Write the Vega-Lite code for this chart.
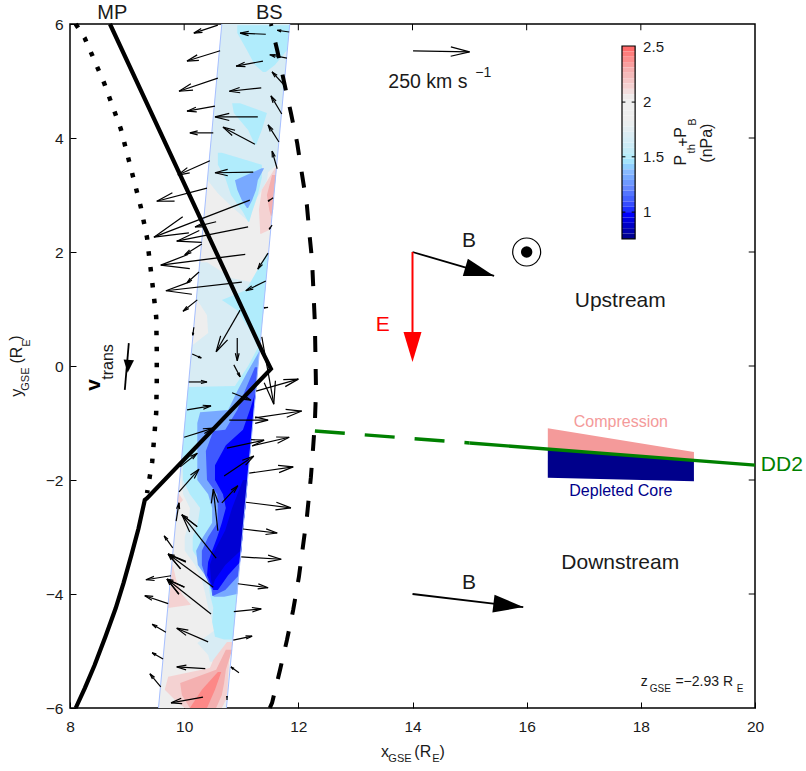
{
"$schema":"https://vega.github.io/schema/vega-lite/v6.json",
"width":685,"height":684,
"autosize":{"type":"none"},
"padding":{"left":70,"top":24,"right":51,"bottom":63},
"background":"white",
"config":{"view":{"stroke":"black","strokeWidth":1.5},"font":"Liberation Sans","axis":{"grid":false,"title":null,"domain":false,"ticks":true,"tickSize":-6,"tickColor":"black","tickWidth":1,"labelFont":"Liberation Sans","labelFontSize":15.5,"labelColor":"#1a1a1a","labelOverlap":false,"labelFlush":false,"zindex":1}},
"datasets":{
"patches":[
{"p":"a","v":1.95,"y":6,"x":10.66,"x2":11.85},{"p":"a","v":1.95,"y":-6,"x":9.55,"x2":10.74},
{"p":"b1","v":1.7,"y":6,"x":10.66,"x2":11.85},{"p":"b1","v":1.7,"y":3.53,"x":10.43,"x2":11.62},{"p":"b1","v":1.7,"y":3.4,"x":10.42,"x2":11.47},{"p":"b1","v":1.7,"y":3.26,"x":10.41,"x2":11.45},{"p":"b1","v":1.7,"y":3.03,"x":10.59,"x2":11.33},{"p":"b1","v":1.7,"y":2.79,"x":10.84,"x2":11.15},{"p":"b1","v":1.7,"y":2.56,"x":11.1,"x2":11.12},
{"p":"b2","v":1.7,"y":1.82,"x":10.27,"x2":10.4},{"p":"b2","v":1.7,"y":1.54,"x":10.25,"x2":10.84},{"p":"b2","v":1.7,"y":1.42,"x":10.24,"x2":11.43},{"p":"b2","v":1.7,"y":-0.39,"x":10.07,"x2":11.26},
{"p":"b3","v":1.95,"y":1.16,"x":10.21,"x2":10.23},{"p":"b3","v":1.95,"y":0.89,"x":10.19,"x2":10.4},{"p":"b3","v":1.95,"y":0.58,"x":10.16,"x2":10.42},{"p":"b3","v":1.95,"y":0.37,"x":10.14,"x2":10.15},
{"p":"b4","v":1.7,"y":-0.39,"x":10.07,"x2":11.26},{"p":"b4","v":1.7,"y":-1.82,"x":9.94,"x2":11.13},{"p":"b4","v":1.7,"y":-2.25,"x":9.98,"x2":11.09},{"p":"b4","v":1.7,"y":-2.49,"x":10.1,"x2":11.07},{"p":"b4","v":1.7,"y":-2.75,"x":10.08,"x2":11.04},{"p":"b4","v":1.7,"y":-3,"x":10.01,"x2":11.02},{"p":"b4","v":1.7,"y":-3.24,"x":10.01,"x2":11},{"p":"b4","v":1.7,"y":-3.49,"x":10.19,"x2":10.97},{"p":"b4","v":1.7,"y":-3.75,"x":10.31,"x2":10.95},{"p":"b4","v":1.7,"y":-4,"x":10.37,"x2":10.93},{"p":"b4","v":1.7,"y":-4.24,"x":10.42,"x2":10.9},{"p":"b4","v":1.7,"y":-4.63,"x":10.54,"x2":10.87},{"p":"b4","v":1.7,"y":-4.86,"x":10.23,"x2":10.85},{"p":"b4","v":1.7,"y":-5.07,"x":10.42,"x2":10.8},{"p":"b4","v":1.7,"y":-5.19,"x":10.45,"x2":10.49},
{"p":"c1","v":1.5,"y":5.98,"x":10.93,"x2":11.85},{"p":"c1","v":1.5,"y":5.84,"x":10.93,"x2":11.83},{"p":"c1","v":1.5,"y":5.54,"x":11.1,"x2":11.8},{"p":"c1","v":1.5,"y":5.28,"x":11.24,"x2":11.59},{"p":"c1","v":1.5,"y":5.16,"x":11.38,"x2":11.43},
{"p":"c2","v":1.5,"y":4.61,"x":10.84,"x2":10.98},{"p":"c2","v":1.5,"y":4.44,"x":10.87,"x2":11.45},{"p":"c2","v":1.5,"y":4.14,"x":11.12,"x2":11.36},{"p":"c2","v":1.5,"y":3.88,"x":11.24,"x2":11.26},
{"p":"c3","v":1.5,"y":3.74,"x":10.59,"x2":10.66},{"p":"c3","v":1.5,"y":3.53,"x":10.59,"x2":11.36},{"p":"c3","v":1.5,"y":3.3,"x":10.72,"x2":11.36},{"p":"c3","v":1.5,"y":3,"x":10.82,"x2":11.29},{"p":"c3","v":1.5,"y":2.7,"x":11.03,"x2":11.19},{"p":"c3","v":1.5,"y":2.53,"x":11.12,"x2":11.14},
{"p":"c4","v":1.33,"y":3.47,"x":11.36,"x2":11.4},{"p":"c4","v":1.33,"y":3.26,"x":10.89,"x2":11.29},{"p":"c4","v":1.33,"y":3.09,"x":10.93,"x2":11.26},{"p":"c4","v":1.33,"y":2.91,"x":11.01,"x2":11.19},{"p":"c4","v":1.33,"y":2.77,"x":11.1,"x2":11.12},
{"p":"c5","v":1.5,"y":1.98,"x":11.45,"x2":11.49},{"p":"c5","v":1.5,"y":1.68,"x":11.28,"x2":11.45},{"p":"c5","v":1.5,"y":1.33,"x":11.08,"x2":11.42},{"p":"c5","v":1.5,"y":1.16,"x":10.66,"x2":11.4},{"p":"c5","v":1.5,"y":0.98,"x":10.93,"x2":11.39},{"p":"c5","v":1.5,"y":0.63,"x":11.15,"x2":11.35},{"p":"c5","v":1.5,"y":0.28,"x":11.31,"x2":11.32},
{"p":"c6","v":1.5,"y":0.32,"x":11.29,"x2":11.32},{"p":"c6","v":1.5,"y":0,"x":11.12,"x2":11.295},{"p":"c6","v":1.5,"y":-0.35,"x":10.89,"x2":11.26},{"p":"c6","v":1.5,"y":-0.37,"x":10.07,"x2":11.26},{"p":"c6","v":1.5,"y":-1,"x":10.01,"x2":11.2},{"p":"c6","v":1.5,"y":-1.49,"x":9.97,"x2":11.16},{"p":"c6","v":1.5,"y":-2,"x":9.98,"x2":11.11},{"p":"c6","v":1.5,"y":-2.25,"x":10.1,"x2":11.09},{"p":"c6","v":1.5,"y":-2.49,"x":10.28,"x2":11.07},{"p":"c6","v":1.5,"y":-2.75,"x":10.24,"x2":11.04},{"p":"c6","v":1.5,"y":-3,"x":10.15,"x2":11.02},{"p":"c6","v":1.5,"y":-3.24,"x":10.15,"x2":11},{"p":"c6","v":1.5,"y":-3.49,"x":10.31,"x2":10.97},{"p":"c6","v":1.5,"y":-3.75,"x":10.42,"x2":10.95},{"p":"c6","v":1.5,"y":-4,"x":10.45,"x2":10.93},{"p":"c6","v":1.5,"y":-4.24,"x":10.51,"x2":10.9},{"p":"c6","v":1.5,"y":-4.49,"x":10.49,"x2":10.88},{"p":"c6","v":1.5,"y":-4.75,"x":10.54,"x2":10.86},{"p":"c6","v":1.5,"y":-4.8,"x":10.7,"x2":10.84},
{"p":"d","v":1.33,"y":0.25,"x":11.31,"x2":11.32},{"p":"d","v":1.33,"y":-0.12,"x":11.1,"x2":11.28},{"p":"d","v":1.33,"y":-0.42,"x":10.94,"x2":11.26},{"p":"d","v":1.33,"y":-0.77,"x":10.77,"x2":11.22},{"p":"d","v":1.33,"y":-0.81,"x":10.28,"x2":11.22},{"p":"d","v":1.33,"y":-1,"x":10.23,"x2":11.2},{"p":"d","v":1.33,"y":-1.49,"x":10.23,"x2":11.16},{"p":"d","v":1.33,"y":-2,"x":10.23,"x2":11.11},{"p":"d","v":1.33,"y":-2.25,"x":10.42,"x2":11.09},{"p":"d","v":1.33,"y":-2.49,"x":10.49,"x2":11.07},{"p":"d","v":1.33,"y":-2.75,"x":10.49,"x2":11.04},{"p":"d","v":1.33,"y":-3,"x":10.33,"x2":11.02},{"p":"d","v":1.33,"y":-3.24,"x":10.21,"x2":11},{"p":"d","v":1.33,"y":-3.49,"x":10.24,"x2":10.97},{"p":"d","v":1.33,"y":-3.75,"x":10.42,"x2":10.95},{"p":"d","v":1.33,"y":-4,"x":10.49,"x2":10.93},{"p":"d","v":1.33,"y":-4.05,"x":10.52,"x2":10.7},
{"p":"e","v":1.12,"y":-0.02,"x":11.24,"x2":11.29},{"p":"e","v":1.12,"y":-0.42,"x":11.07,"x2":11.26},{"p":"e","v":1.12,"y":-0.77,"x":10.93,"x2":11.22},{"p":"e","v":1.12,"y":-1.12,"x":10.72,"x2":11.19},{"p":"e","v":1.12,"y":-1.14,"x":10.51,"x2":11.19},{"p":"e","v":1.12,"y":-1.49,"x":10.38,"x2":11.16},{"p":"e","v":1.12,"y":-2,"x":10.4,"x2":11.11},{"p":"e","v":1.12,"y":-2.25,"x":10.58,"x2":11.09},{"p":"e","v":1.12,"y":-2.49,"x":10.59,"x2":11.07},{"p":"e","v":1.12,"y":-2.75,"x":10.58,"x2":11.04},{"p":"e","v":1.12,"y":-3,"x":10.42,"x2":11.02},{"p":"e","v":1.12,"y":-3.24,"x":10.31,"x2":11},{"p":"e","v":1.12,"y":-3.49,"x":10.31,"x2":10.97},{"p":"e","v":1.12,"y":-3.68,"x":10.37,"x2":10.95},{"p":"e","v":1.12,"y":-3.93,"x":10.49,"x2":10.72},{"p":"e","v":1.12,"y":-4.03,"x":10.49,"x2":10.51},
{"p":"f","v":1.0,"y":-0.46,"x":11.25,"x2":11.26},{"p":"f","v":1.0,"y":-0.77,"x":11.15,"x2":11.22},{"p":"f","v":1.0,"y":-1.12,"x":11.03,"x2":11.19},{"p":"f","v":1.0,"y":-1.39,"x":10.73,"x2":11.17},{"p":"f","v":1.0,"y":-1.74,"x":10.54,"x2":11.13},{"p":"f","v":1.0,"y":-2,"x":10.54,"x2":11.11},{"p":"f","v":1.0,"y":-2.25,"x":10.68,"x2":11.09},{"p":"f","v":1.0,"y":-2.49,"x":10.73,"x2":11.07},{"p":"f","v":1.0,"y":-2.75,"x":10.66,"x2":11.04},{"p":"f","v":1.0,"y":-3,"x":10.58,"x2":11.02},{"p":"f","v":1.0,"y":-3.24,"x":10.49,"x2":11},{"p":"f","v":1.0,"y":-3.44,"x":10.42,"x2":10.98},{"p":"f","v":1.0,"y":-3.67,"x":10.4,"x2":10.77},{"p":"f","v":1.0,"y":-3.93,"x":10.51,"x2":10.59},
{"p":"g","v":0.92,"y":-2,"x":11.03,"x2":11.11},{"p":"g","v":0.92,"y":-2.49,"x":10.84,"x2":11.07},{"p":"g","v":0.92,"y":-2.88,"x":10.72,"x2":11.03},{"p":"g","v":0.92,"y":-3.23,"x":10.54,"x2":11},{"p":"g","v":0.92,"y":-3.49,"x":10.45,"x2":10.72},{"p":"g","v":0.92,"y":-3.75,"x":10.47,"x2":10.54},{"p":"g","v":0.92,"y":-3.84,"x":10.49,"x2":10.51},
{"p":"h1","v":2.15,"y":-3.49,"x":9.79,"x2":9.8},{"p":"h1","v":2.15,"y":-3.75,"x":9.77,"x2":9.86},{"p":"h1","v":2.15,"y":-4,"x":9.75,"x2":9.96},{"p":"h1","v":2.15,"y":-4.19,"x":9.72,"x2":10.12},{"p":"h1","v":2.15,"y":-4.24,"x":9.71,"x2":9.75},
{"p":"h2","v":2.15,"y":-2.23,"x":9.89,"x2":9.9},{"p":"h2","v":2.15,"y":-2.35,"x":9.88,"x2":9.98},{"p":"h2","v":2.15,"y":-2.44,"x":9.88,"x2":9.9},
{"p":"h3","v":2.15,"y":-4.84,"x":10.75,"x2":10.85},{"p":"h3","v":2.15,"y":-5.16,"x":10.51,"x2":10.79},{"p":"h3","v":2.15,"y":-5.3,"x":10.45,"x2":10.78},{"p":"h3","v":2.15,"y":-5.45,"x":9.72,"x2":10.77},{"p":"h3","v":2.15,"y":-5.68,"x":9.66,"x2":10.76},{"p":"h3","v":2.15,"y":-5.86,"x":9.84,"x2":10.73},{"p":"h3","v":2.15,"y":-6,"x":10.01,"x2":10.66},
{"p":"i1","v":2.3,"y":-4.98,"x":10.73,"x2":10.84},{"p":"i1","v":2.3,"y":-5.33,"x":10.56,"x2":10.73},{"p":"i1","v":2.3,"y":-5.56,"x":9.93,"x2":10.7},{"p":"i1","v":2.3,"y":-5.77,"x":9.96,"x2":10.66},{"p":"i1","v":2.3,"y":-6,"x":10.1,"x2":10.56},
{"p":"j1","v":2.42,"y":-5.37,"x":10.59,"x2":10.65},{"p":"j1","v":2.42,"y":-5.68,"x":10.31,"x2":10.54},{"p":"j1","v":2.42,"y":-6,"x":10.1,"x2":10.4},
{"p":"k1","v":2.15,"y":3.47,"x":11.59,"x2":11.62},{"p":"k1","v":2.15,"y":3.09,"x":11.36,"x2":11.58},{"p":"k1","v":2.15,"y":2.74,"x":11.31,"x2":11.55},{"p":"k1","v":2.15,"y":2.39,"x":11.33,"x2":11.5},{"p":"k1","v":2.15,"y":2.32,"x":11.33,"x2":11.35},
{"p":"k2","v":2.3,"y":3.35,"x":11.54,"x2":11.61},{"p":"k2","v":2.3,"y":3,"x":11.45,"x2":11.57},{"p":"k2","v":2.3,"y":2.74,"x":11.49,"x2":11.56},{"p":"k2","v":2.3,"y":2.63,"x":11.52,"x2":11.53}
],
"bar":[
{"v":2.5,"x":17.67,"x2":17.9,"y":5.614,"y2":5.52},{"v":2.451,"x":17.67,"x2":17.9,"y":5.52,"y2":5.426},{"v":2.403,"x":17.67,"x2":17.9,"y":5.426,"y2":5.332},{"v":2.354,"x":17.67,"x2":17.9,"y":5.332,"y2":5.238},{"v":2.306,"x":17.67,"x2":17.9,"y":5.238,"y2":5.144},{"v":2.257,"x":17.67,"x2":17.9,"y":5.144,"y2":5.05},{"v":2.208,"x":17.67,"x2":17.9,"y":5.05,"y2":4.956},{"v":2.16,"x":17.67,"x2":17.9,"y":4.956,"y2":4.862},{"v":2.111,"x":17.67,"x2":17.9,"y":4.862,"y2":4.768},{"v":2.063,"x":17.67,"x2":17.9,"y":4.768,"y2":4.674},{"v":2.014,"x":17.67,"x2":17.9,"y":4.674,"y2":4.58},{"v":1.965,"x":17.67,"x2":17.9,"y":4.58,"y2":4.486},{"v":1.917,"x":17.67,"x2":17.9,"y":4.486,"y2":4.392},{"v":1.868,"x":17.67,"x2":17.9,"y":4.392,"y2":4.298},{"v":1.82,"x":17.67,"x2":17.9,"y":4.298,"y2":4.204},{"v":1.771,"x":17.67,"x2":17.9,"y":4.204,"y2":4.11},{"v":1.722,"x":17.67,"x2":17.9,"y":4.11,"y2":4.016},{"v":1.674,"x":17.67,"x2":17.9,"y":4.016,"y2":3.922},{"v":1.625,"x":17.67,"x2":17.9,"y":3.922,"y2":3.828},{"v":1.577,"x":17.67,"x2":17.9,"y":3.828,"y2":3.734},{"v":1.528,"x":17.67,"x2":17.9,"y":3.734,"y2":3.64},{"v":1.479,"x":17.67,"x2":17.9,"y":3.64,"y2":3.546},{"v":1.431,"x":17.67,"x2":17.9,"y":3.546,"y2":3.452},{"v":1.382,"x":17.67,"x2":17.9,"y":3.452,"y2":3.358},{"v":1.334,"x":17.67,"x2":17.9,"y":3.358,"y2":3.264},{"v":1.285,"x":17.67,"x2":17.9,"y":3.264,"y2":3.17},{"v":1.236,"x":17.67,"x2":17.9,"y":3.17,"y2":3.076},{"v":1.188,"x":17.67,"x2":17.9,"y":3.076,"y2":2.982},{"v":1.139,"x":17.67,"x2":17.9,"y":2.982,"y2":2.888},{"v":1.091,"x":17.67,"x2":17.9,"y":2.888,"y2":2.794},{"v":1.042,"x":17.67,"x2":17.9,"y":2.794,"y2":2.7},{"v":0.993,"x":17.67,"x2":17.9,"y":2.7,"y2":2.606},{"v":0.945,"x":17.67,"x2":17.9,"y":2.606,"y2":2.512},{"v":0.896,"x":17.67,"x2":17.9,"y":2.512,"y2":2.418},{"v":0.848,"x":17.67,"x2":17.9,"y":2.418,"y2":2.324},{"v":0.799,"x":17.67,"x2":17.9,"y":2.324,"y2":2.23}
],
"arrows":[
{"x":10.59,"y":5.98,"x2":10.17,"y2":5.84},{"x":11.43,"y":5.82,"x2":10.98,"y2":5.84},{"x":11.84,"y":5.86,"x2":11.63,"y2":5.89},{"x":10.63,"y":5.53,"x2":10.05,"y2":5.35},{"x":11.38,"y":5.35,"x2":10.91,"y2":5.26},{"x":11.8,"y":5.4,"x2":11.5,"y2":5.46},{"x":10.59,"y":5.05,"x2":9.91,"y2":4.82},{"x":11.35,"y":4.88,"x2":10.79,"y2":4.82},{"x":11.75,"y":4.93,"x2":11.54,"y2":5.16},{"x":10.54,"y":4.56,"x2":10.05,"y2":4.47},{"x":11.29,"y":4.37,"x2":10.54,"y2":4.37},{"x":11.71,"y":4.42,"x2":11.52,"y2":4.74},{"x":10.51,"y":4.09,"x2":10.1,"y2":4.09},{"x":11.24,"y":3.89,"x2":10.68,"y2":4.19},{"x":11.66,"y":3.93,"x2":11.47,"y2":4.23},{"x":10.45,"y":3.6,"x2":9.89,"y2":3.35},{"x":11.21,"y":3.4,"x2":10.54,"y2":3.39},{"x":11.63,"y":3.46,"x2":11.54,"y2":3.77},{"x":10.4,"y":3.12,"x2":9.52,"y2":2.89},{"x":11.15,"y":2.91,"x2":9.47,"y2":2.26},{"x":10.56,"y":2.53,"x2":10.19,"y2":2.44},{"x":11.12,"y":2.44,"x2":9.87,"y2":2.19},{"x":11.56,"y":2.95,"x2":11.47,"y2":2.89},{"x":11.54,"y":2.47,"x2":11.49,"y2":2.4},{"x":10.31,"y":2.14,"x2":10.01,"y2":1.95},{"x":10.26,"y":1.65,"x2":10.05,"y2":1.46},{"x":11.07,"y":1.96,"x2":9.59,"y2":1.77},{"x":11.47,"y":1.98,"x2":11.29,"y2":1.7},{"x":11.01,"y":1.47,"x2":9.68,"y2":1.32},{"x":11.43,"y":1.49,"x2":11.08,"y2":1.32},{"x":10.23,"y":1.16,"x2":9.98,"y2":0.96},{"x":11.47,"y":1.03,"x2":11.4,"y2":1.02},{"x":10.98,"y":0.98,"x2":10.56,"y2":0.25},{"x":10.17,"y":0.68,"x2":10.15,"y2":0.54},{"x":10.93,"y":0.49,"x2":10.93,"y2":0.09},{"x":10.14,"y":0.21,"x2":10.3,"y2":0.14},{"x":11.36,"y":0.51,"x2":11.57,"y2":-0.67},{"x":10.87,"y":0.02,"x2":10.98,"y2":-0.19},{"x":10.08,"y":-0.28,"x2":10.4,"y2":-0.28},{"x":10.84,"y":-0.47,"x2":11.17,"y2":-0.6},{"x":11.26,"y":-0.44,"x2":12.0,"y2":-0.23},{"x":10.05,"y":-0.77,"x2":10.47,"y2":-0.7},{"x":10.79,"y":-0.95,"x2":11.47,"y2":-0.95},{"x":11.24,"y":-0.91,"x2":12.06,"y2":-0.79},{"x":10.0,"y":-1.25,"x2":10.51,"y2":-1.09},{"x":10.75,"y":-1.44,"x2":11.4,"y2":-1.3},{"x":11.19,"y":-1.4,"x2":11.84,"y2":-1.25},{"x":9.93,"y":-1.77,"x2":10.23,"y2":-1.53},{"x":10.7,"y":-1.93,"x2":11.22,"y2":-1.58},{"x":11.14,"y":-1.88,"x2":11.91,"y2":-1.77},{"x":9.91,"y":-2.21,"x2":10.26,"y2":-1.81},{"x":9.86,"y":-2.72,"x2":9.91,"y2":-2.4},{"x":10.59,"y":-2.89,"x2":10.51,"y2":-2.16},{"x":10.66,"y":-2.4,"x2":10.94,"y2":-2.1},{"x":10.23,"y":-2.82,"x2":9.96,"y2":-2.61},{"x":10.56,"y":-3.37,"x2":9.96,"y2":-2.61},{"x":11.08,"y":-2.39,"x2":11.87,"y2":-2.49},{"x":11.03,"y":-2.86,"x2":11.63,"y2":-2.93},{"x":9.8,"y":-3.19,"x2":9.65,"y2":-2.98},{"x":11.0,"y":-3.35,"x2":11.7,"y2":-3.39},{"x":10.03,"y":-3.44,"x2":9.72,"y2":-3.3},{"x":10.51,"y":-3.88,"x2":9.72,"y2":-3.3},{"x":9.94,"y":-3.56,"x2":9.72,"y2":-3.3},{"x":9.77,"y":-3.68,"x2":9.33,"y2":-3.75},{"x":10.0,"y":-3.88,"x2":9.7,"y2":-3.74},{"x":10.47,"y":-4.35,"x2":9.7,"y2":-3.74},{"x":9.91,"y":-4.0,"x2":9.7,"y2":-3.74},{"x":10.94,"y":-3.82,"x2":11.47,"y2":-3.89},{"x":9.72,"y":-4.17,"x2":9.31,"y2":-4.03},{"x":10.87,"y":-4.31,"x2":11.35,"y2":-4.26},{"x":9.68,"y":-4.67,"x2":9.44,"y2":-4.53},{"x":10.42,"y":-4.84,"x2":9.87,"y2":-4.6},{"x":10.86,"y":-4.81,"x2":11.19,"y2":-4.74},{"x":9.63,"y":-5.14,"x2":9.44,"y2":-5.03},{"x":10.37,"y":-5.31,"x2":9.87,"y2":-5.28},{"x":10.96,"y":-5.38,"x2":10.82,"y2":-5.28},{"x":9.59,"y":-5.63,"x2":9.4,"y2":-5.4},{"x":10.33,"y":-5.81,"x2":9.77,"y2":-5.91},{"x":10.75,"y":-5.86,"x2":10.75,"y2":-5.79},
{"x":14.01,"y":5.53,"x2":15.0,"y2":5.51}
],
"mp":[{"i":0,"x":8.7,"y":6},{"i":1,"x":11.38,"y":0.23},{"i":2,"x":11.52,"y":-0.05},{"i":3,"x":9.35,"y":-2.32},{"i":4,"x":9.31,"y":-2.35},{"i":5,"x":9.2,"y":-2.85},{"i":6,"x":9.08,"y":-3.3},{"i":7,"x":8.94,"y":-3.8},{"i":8,"x":8.8,"y":-4.25},{"i":9,"x":8.62,"y":-4.75},{"i":10,"x":8.43,"y":-5.25},{"i":11,"x":8.26,"y":-5.65},{"i":12,"x":8.1,"y":-6}],
"dots":[{"i":0,"x":8.1,"y":6},{"i":1,"x":8.26,"y":5.75},{"i":2,"x":8.6,"y":4.96},{"i":3,"x":8.89,"y":4.16},{"i":4,"x":9.24,"y":2.79},{"i":5,"x":9.35,"y":2.25},{"i":6,"x":9.38,"y":1.98},{"i":7,"x":9.45,"y":1.39},{"i":8,"x":9.51,"y":0.86},{"i":9,"x":9.52,"y":0.28},{"i":10,"x":9.52,"y":-0.28},{"i":11,"x":9.51,"y":-0.82},{"i":12,"x":9.44,"y":-1.68},{"i":13,"x":9.35,"y":-2.23}],
"bs":[{"i":0,"x":11.52,"y":6},{"i":1,"x":11.63,"y":5.54},{"i":2,"x":11.77,"y":4.89},{"i":3,"x":11.87,"y":4.44},{"i":4,"x":11.98,"y":3.91},{"i":5,"x":12.06,"y":3.39},{"i":6,"x":12.15,"y":2.82},{"i":7,"x":12.2,"y":2.26},{"i":8,"x":12.24,"y":1.86},{"i":9,"x":12.29,"y":0.75},{"i":10,"x":12.31,"y":-0.42},{"i":11,"x":12.29,"y":-0.98},{"i":12,"x":12.26,"y":-1.42},{"i":13,"x":12.22,"y":-1.95},{"i":14,"x":12.15,"y":-2.65},{"i":15,"x":12.08,"y":-3.17},{"i":16,"x":12.01,"y":-3.7},{"i":17,"x":11.91,"y":-4.28},{"i":18,"x":11.8,"y":-4.81},{"i":19,"x":11.68,"y":-5.33},{"i":20,"x":11.54,"y":-5.91},{"i":21,"x":11.5,"y":-6}],
"ticks":[{"x":10,"x2":10,"y":6,"y2":5.89},{"x":12,"x2":12,"y":6,"y2":5.89},{"x":14,"x2":14,"y":6,"y2":5.89},{"x":16,"x2":16,"y":6,"y2":5.89},{"x":18,"x2":18,"y":6,"y2":5.89},{"x":20,"x2":19.89,"y":4,"y2":4},{"x":20,"x2":19.89,"y":2,"y2":2},{"x":20,"x2":19.89,"y":0,"y2":0},{"x":20,"x2":19.89,"y":-2,"y2":-2},{"x":20,"x2":19.89,"y":-4,"y2":-4},{"x":17.67,"x2":17.73,"y":4.63,"y2":4.63},{"x":17.67,"x2":17.73,"y":3.67,"y2":3.67},{"x":17.67,"x2":17.73,"y":2.7,"y2":2.7},{"x":17.9,"x2":17.84,"y":4.63,"y2":4.63},{"x":17.9,"x2":17.84,"y":3.67,"y2":3.67},{"x":17.9,"x2":17.84,"y":2.7,"y2":2.7}]
},
"encoding":{
"x":{"field":"x","type":"quantitative","scale":{"domain":[8,20],"nice":false,"zero":false},"axis":{"values":[8,10,12,14,16,18,20],"labelPadding":17,"orient":"bottom"}},
"y":{"field":"y","type":"quantitative","scale":{"domain":[-6,6],"nice":false,"zero":false},"axis":{"values":[-6,-4,-2,0,2,4,6],"labelPadding":13,"orient":"left"}}
},
"layer":[
{"data":{"name":"patches"},"mark":{"type":"area","orient":"horizontal","opacity":1},"encoding":{"x2":{"field":"x2"},"detail":{"field":"p"},"color":{"field":"v","type":"quantitative","legend":null,"scale":{"domain":[0.75,1,1.1,1.25,1.4,1.5,1.6,1.7,1.85,2.05,2.15,2.3,2.5],"range":["#00007a","#0000ff","#3a50ff","#6a8cff","#8fc0ff","#b0ecfc","#c8ebf6","#d8ecf4","#eeeeee","#eeeeee","#f4d2d2","#f4b0b0","#ff6a6a"]}}}},
{"data":{"values":[{"x":10.66,"y":6,"x2":9.55,"y2":-6},{"x":11.85,"y":6,"x2":10.74,"y2":-6}]},"mark":{"type":"rule","stroke":"#a6bfff","strokeWidth":1},"encoding":{"x2":{"field":"x2"},"y2":{"field":"y2"}}},
{"data":{"values":[{"x":16.37,"y":-1.09,"y2":-1.46},{"x":18.93,"y":-1.51,"y2":-1.66}]},"mark":{"type":"area","color":"#f49a9a","opacity":1},"encoding":{"y2":{"field":"y2"}}},
{"data":{"values":[{"x":16.37,"y":-1.46,"y2":-1.96},{"x":18.93,"y":-1.66,"y2":-2.02}]},"mark":{"type":"area","color":"#00008b","opacity":1},"encoding":{"y2":{"field":"y2"}}},
{"data":{"values":[{"i":0,"x":12.29,"y":-1.14},{"i":1,"x":15.0,"y":-1.35}]},"mark":{"type":"line","stroke":"#008000","strokeWidth":3.4,"strokeDash":[30,20]},"encoding":{"order":{"field":"i"}}},
{"data":{"values":[{"i":0,"x":15.0,"y":-1.35},{"i":1,"x":20,"y":-1.74}]},"mark":{"type":"line","stroke":"#008000","strokeWidth":3.4},"encoding":{"order":{"field":"i"}}},
{"data":{"name":"dots"},"mark":{"type":"line","stroke":"black","strokeWidth":4.5,"strokeDash":[4.5,11.5]},"encoding":{"order":{"field":"i"}}},
{"data":{"name":"bs"},"mark":{"type":"line","stroke":"black","strokeWidth":4,"strokeDash":[16,17],"strokeDashOffset":14},"encoding":{"order":{"field":"i"}}},
{"data":{"name":"mp"},"mark":{"type":"line","stroke":"black","strokeWidth":4.2,"strokeJoin":"miter"},"encoding":{"order":{"field":"i"}}},
{"data":{"name":"arrows"},"mark":{"type":"rule","stroke":"black","strokeWidth":1.2},"encoding":{"x2":{"field":"x2"},"y2":{"field":"y2"}}},
{"data":{"name":"arrows"},"transform":[{"calculate":"atan2(datum.x2-datum.x,datum.y2-datum.y)*180/PI","as":"a"},{"calculate":"361*((datum.x2-datum.x)*(datum.x2-datum.x)+(datum.y2-datum.y)*(datum.y2-datum.y))","as":"s"}],"mark":{"type":"point","shape":"M-0.5,2L0,0L0.5,2","filled":false,"stroke":"black","strokeWidth":1.2,"opacity":1},"encoding":{"x":{"field":"x2","type":"quantitative"},"y":{"field":"y2","type":"quantitative"},"angle":{"field":"a","type":"quantitative","scale":null},"size":{"field":"s","type":"quantitative","scale":null}}},
{"data":{"values":[{"x":14,"y":2,"x2":15.43,"y2":1.58},{"x":14,"y":-4,"x2":15.94,"y2":-4.23},{"x":9.03,"y":0.4,"x2":8.96,"y2":-0.42}]},"mark":{"type":"rule","stroke":"black","strokeWidth":1.8},"encoding":{"x2":{"field":"x2"},"y2":{"field":"y2"}}},
{"data":{"values":[{"x":14,"y":2,"x2":15.43,"y2":1.58},{"x":14,"y":-4,"x2":15.94,"y2":-4.23}]},"transform":[{"calculate":"atan2(datum.x2-datum.x,datum.y2-datum.y)*180/PI","as":"a"}],"mark":{"type":"point","shape":"M-0.6,2L0,0L0.6,2Z","filled":true,"color":"black","opacity":1,"size":900},"encoding":{"x":{"field":"x2","type":"quantitative"},"y":{"field":"y2","type":"quantitative"},"angle":{"field":"a","type":"quantitative","scale":null}}},
{"data":{"values":[{"x":14,"y":2,"x2":14,"y2":0.4}]},"mark":{"type":"rule","stroke":"#ff0000","strokeWidth":2},"encoding":{"x2":{"field":"x2"},"y2":{"field":"y2"}}},
{"data":{"values":[{"x":14,"y":0.07}]},"mark":{"type":"point","shape":"M-0.6,2L0,0L0.6,2Z","filled":true,"color":"#ff0000","opacity":1,"size":900,"angle":180}},
{"data":{"values":[{"x":9.01,"y":-0.12}]},"mark":{"type":"point","shape":"M-0.8,2L0,0L0.8,2Z","filled":true,"color":"black","opacity":1,"size":170,"angle":185}},
{"data":{"name":"bar"},"mark":{"type":"rect"},"encoding":{"x2":{"field":"x2"},"y2":{"field":"y2"},"color":{"field":"v","type":"quantitative"}}},
{"data":{"values":[{"x":17.67,"x2":17.9,"y":5.614,"y2":2.23}]},"mark":{"type":"rect","filled":false,"stroke":"black","strokeWidth":1.2},"encoding":{"x2":{"field":"x2"},"y2":{"field":"y2"}}},
{"data":{"name":"ticks"},"mark":{"type":"rule","stroke":"black","strokeWidth":1},"encoding":{"x2":{"field":"x2"},"y2":{"field":"y2"}}},
{"data":{"values":[{"x":16,"y":2}]},"mark":{"type":"point","shape":"circle","filled":false,"stroke":"black","strokeWidth":1.2,"size":784,"opacity":1}},
{"data":{"values":[{"x":16,"y":2}]},"mark":{"type":"point","shape":"circle","filled":true,"color":"black","size":130,"opacity":1}},
{"data":{"values":[{"x":8.74,"y":6.2,"t":"MP"},{"x":11.49,"y":6.2,"t":"BS"}]},"mark":{"type":"text","fontSize":20,"align":"center","baseline":"middle","color":"#1a1a1a"},"encoding":{"text":{"field":"t"}}},
{"data":{"values":[{"x":14.99,"y":2.19,"t":"B"},{"x":14.99,"y":-3.81,"t":"B"},{"x":17.64,"y":1.14,"t":"Upstream"},{"x":17.64,"y":-3.45,"t":"Downstream"}]},"mark":{"type":"text","fontSize":21,"align":"center","baseline":"middle","color":"#1a1a1a"},"encoding":{"text":{"field":"t"}}},
{"data":{"values":[{"x":13.48,"y":0.72,"t":"E"}]},"mark":{"type":"text","fontSize":21,"align":"center","baseline":"middle","color":"#ff0000"},"encoding":{"text":{"field":"t"}}},
{"data":{"values":[{"x":20.47,"y":-1.74,"t":"DD2"}]},"mark":{"type":"text","fontSize":21,"align":"center","baseline":"middle","color":"#008000"},"encoding":{"text":{"field":"t"}}},
{"data":{"values":[{"x":17.65,"y":-0.98,"t":"Compression"}]},"mark":{"type":"text","fontSize":16,"align":"center","baseline":"middle","color":"#f49a9a"},"encoding":{"text":{"field":"t"}}},
{"data":{"values":[{"x":17.65,"y":-2.19,"t":"Depleted Core"}]},"mark":{"type":"text","fontSize":16,"align":"center","baseline":"middle","color":"#00008b"},"encoding":{"text":{"field":"t"}}},
{"data":{"values":[{"x":14.27,"y":4.98,"t":"250 km s"}]},"mark":{"type":"text","fontSize":19.5,"align":"center","baseline":"middle","color":"#1a1a1a"},"encoding":{"text":{"field":"t"}}},
{"data":{"values":[{"x":15.24,"y":5.14,"t":"−1"}]},"mark":{"type":"text","fontSize":14,"align":"center","baseline":"middle","color":"#1a1a1a"},"encoding":{"text":{"field":"t"}}},
{"data":{"values":[{"x":18.34,"y":-5.66,"t":"GSE"},{"x":19.74,"y":-5.66,"t":"E"}]},"mark":{"type":"text","fontSize":10,"align":"center","baseline":"middle","color":"#1a1a1a"},"encoding":{"text":{"field":"t"}}},
{"data":{"values":[{"x":13.78,"y":-6.89,"t":"GSE"},{"x":14.41,"y":-6.89,"t":"E"}]},"mark":{"type":"text","fontSize":11,"align":"center","baseline":"middle","color":"#1a1a1a"},"encoding":{"text":{"field":"t"}}},
{"data":{"values":[{"x":13.52,"y":-6.77,"t":"x"},{"x":14.18,"y":-6.77,"t":"(R"},{"x":14.52,"y":-6.77,"t":")"}]},"mark":{"type":"text","fontSize":16,"align":"center","baseline":"middle","color":"#1a1a1a"},"encoding":{"text":{"field":"t"}}},
{"data":{"values":[{"x":18.06,"y":-5.54,"t":"z"},{"x":19.11,"y":-5.54,"t":"=−2.93 R"}]},"mark":{"type":"text","fontSize":14,"align":"center","baseline":"middle","color":"#1a1a1a"},"encoding":{"text":{"field":"t"}}},
{"data":{"values":[{"x":18.04,"y":5.6,"t":"2.5"},{"x":18.04,"y":4.63,"t":"2"},{"x":18.04,"y":3.67,"t":"1.5"},{"x":18.04,"y":2.7,"t":"1"}]},"mark":{"type":"text","fontSize":15,"align":"left","baseline":"middle","color":"#1a1a1a"},"encoding":{"text":{"field":"t"}}},
{"data":{"values":[{"x":18.7,"y":3.61,"t":"P"},{"x":18.74,"y":3.93,"t":"+"},{"x":18.7,"y":4.1,"t":"P"},{"x":19.16,"y":3.91,"t":"(nPa)"},{"x":7.07,"y":-0.47,"t":"y"},{"x":7.07,"y":0.19,"t":"(R"},{"x":7.05,"y":0.49,"t":")"},{"x":8.67,"y":0.07,"t":"trans"}]},"mark":{"type":"text","fontSize":16,"angle":270,"align":"center","baseline":"middle","color":"#1a1a1a"},"encoding":{"text":{"field":"t"}}},
{"data":{"values":[{"x":18.9,"y":3.81,"t":"th"},{"x":18.92,"y":4.28,"t":"B"},{"x":7.23,"y":-0.23,"t":"GSE"},{"x":7.25,"y":0.4,"t":"E"}]},"mark":{"type":"text","fontSize":11,"angle":270,"align":"center","baseline":"middle","color":"#1a1a1a"},"encoding":{"text":{"field":"t"}}},
{"data":{"values":[{"x":8.42,"y":-0.33,"t":"v"}]},"mark":{"type":"text","fontSize":21,"fontWeight":"bold","angle":270,"align":"center","baseline":"middle","color":"black"},"encoding":{"text":{"field":"t"}}}
]
}
